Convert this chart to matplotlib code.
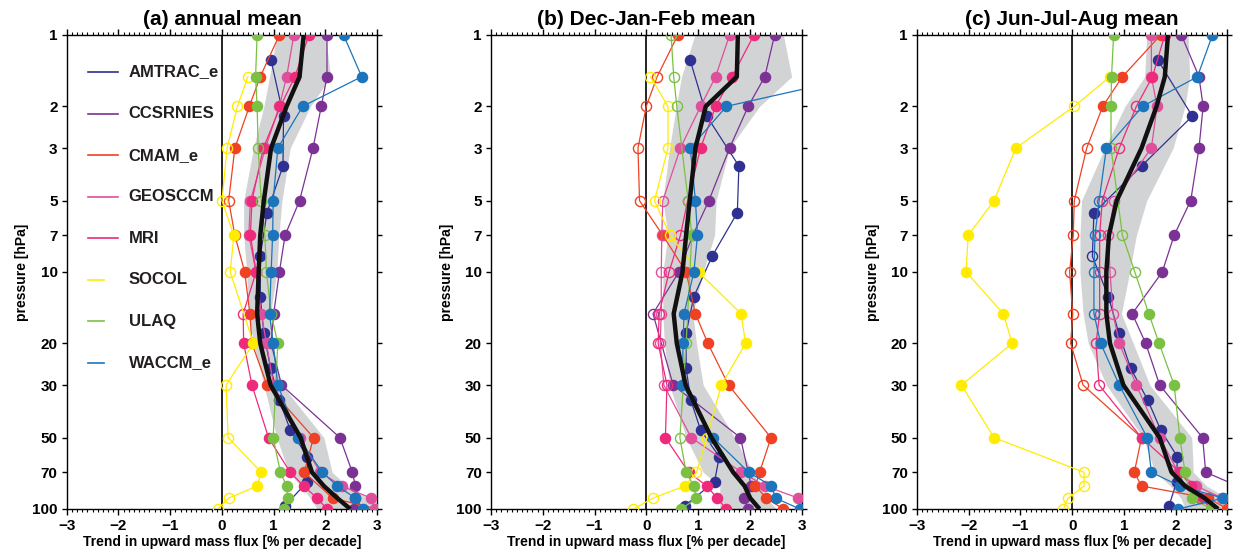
import numpy as np
import matplotlib.pyplot as plt
from matplotlib.ticker import MultipleLocator, NullLocator

plt.rcParams['font.family'] = ['Liberation Sans', 'DejaVu Sans']
plt.rcParams['font.weight'] = 'bold'

nan = np.nan

# pressure levels [hPa]
levels = [1, 1.5, 2, 3, 5, 7, 10, 15, 20, 30, 50, 70, 80, 90, 100]
amtrac_levels = [1.28, 2.2, 3.57, 5.62, 8.6, 12.7, 18.1, 25.5, 34.7, 46.4, 60.1, 76.7, 97]

models = ['AMTRAC_e', 'CCSRNIES', 'CMAM_e', 'GEOSCCM', 'MRI', 'SOCOL', 'ULAQ', 'WACCM_e']
colors = ['#2E3192', '#7B3294', '#EF4123', '#DE4F9C', '#EE2A7B', '#FFEC00', '#7AC143', '#1C75BC']
titles = ['(a) annual mean', '(b) Dec-Jan-Feb mean', '(c) Jun-Jul-Aug mean']
yticks = [1, 2, 3, 5, 7, 10, 20, 30, 50, 70, 100]

# trends [% per decade]; 'x' = significant (filled), 'o' = not significant (open)
ann_vals = {
    'AMTRAC_e': [0.95, 1.19, 1.18, 0.87, 0.74, 0.74, 0.81, 0.94, 1.11, 1.32, 1.65, 1.65, 1.22],
    'CCSRNIES': [2.03, 2.03, 1.92, 1.76, 1.50, 1.22, 1.11, 1.00, 0.95, 1.15, 2.28, 2.52, 2.58, 2.58, 2.55],
    'CMAM_e':   [1.11, 0.74, 0.53, 0.25, 0.13, 0.25, 0.44, 0.54, 0.58, 0.87, 1.77, 1.59, nan, 2.14, 3.00],
    'GEOSCCM':  [1.39, 1.25, 1.11, 0.84, 0.55, 0.52, 0.66, 0.76, 0.86, 1.00, 1.50, 1.90, 2.32, 2.88, 2.95],
    'MRI':      [1.68, 1.41, 1.13, 0.80, 0.58, 0.55, 0.66, 0.41, 0.42, 0.58, 0.90, 1.32, 1.58, 1.84, 2.03],
    'SOCOL':    [nan, 0.50, 0.30, 0.10, 0.00, 0.23, 0.16, nan, 0.61, 0.08, 0.12, 0.76, 0.68, 0.13, -0.08],
    'ULAQ':     [0.68, 0.65, 0.68, 0.70, 0.76, 0.83, 0.86, 0.95, 1.08, nan, 0.99, 1.13, 1.25, 1.27, 1.19],
    'WACCM_e':  [2.35, 2.70, 1.56, 1.08, 0.99, 0.98, 0.95, 0.92, 0.99, 1.08, 1.47, 1.94, 2.23, 2.58, 2.73],
}
ann_sig = {
    'AMTRAC_e': 'xxxxxxxxxxxxx',
    'CCSRNIES': 'xxxxxxxxxxxxxxx',
    'CMAM_e':   'xxxxoxxxxxxxxxx',
    'GEOSCCM':  'xxxxxxxxxxxxxxx',
    'MRI':      'xxxxxxxoxxxxxxx',
    'SOCOL':    'oooooxooxooxxoo',
    'ULAQ':     'xxxoooooxxxxxxx',
    'WACCM_e':  'xxxxxxxxxxxxxxx',
}
ann_mean = [1.58, 1.50, 1.25, 0.95, 0.81, 0.74, 0.71, 0.68, 0.74, 0.94, 1.52, 1.74, 1.97, 2.23, 2.48]
ann_lo = [1.06, 0.92, 0.81, 0.61, 0.42, 0.42, 0.48, 0.52, 0.61, 0.81, 1.06, 1.29, 1.52, 1.71, 1.84]
ann_hi = [2.00, 2.10, 1.71, 1.32, 1.16, 1.10, 1.06, 0.94, 0.97, 1.16, 1.97, 2.13, 2.42, 2.81, 3.20]

djf_vals = {
    'AMTRAC_e': [0.85, 1.17, 1.79, 1.76, 1.27, 0.92, 0.77, 0.77, 0.86, 1.05, 1.41, 1.32, 0.74],
    'CCSRNIES': [2.48, 2.29, 1.97, 1.61, 1.21, 0.90, 0.63, 0.13, nan, 0.52, 1.82, nan, 2.03, 1.88, 1.97],
    'CMAM_e':   [0.61, 0.21, 0.00, -0.16, -0.13, 0.32, 0.77, 0.95, 1.19, 1.59, 2.41, 2.19, 2.11, 2.32, 2.65],
    'GEOSCCM':  [1.61, 1.34, 1.05, 0.66, 0.32, 0.30, 0.29, 0.29, 0.27, 0.34, 0.87, 1.84, 2.30, 2.94, 3.10],
    'MRI':      [2.08, 1.66, 1.34, 1.05, 0.80, 0.66, 0.44, 0.25, 0.23, 0.40, 0.37, 0.82, 1.17, 1.37, 1.55],
    'SOCOL':    [nan, 0.08, 0.42, 0.42, 0.16, 0.46, 1.01, 1.83, 1.92, 1.45, 1.17, 0.97, 0.74, 0.13, -0.25],
    'ULAQ':     [0.48, 0.53, 0.59, nan, 0.81, 0.88, nan, nan, 0.77, nan, 0.65, 0.77, 0.92, 0.97, 0.68],
    'WACCM_e':  [nan, 4.10, 1.55, 0.85, 0.95, 0.99, 0.92, 0.73, 0.71, 0.70, 1.29, 1.98, 2.42, 2.50, 2.97],
}
djf_sig = {
    'AMTRAC_e': 'xxxxxxxxxxxxx',
    'CCSRNIES': 'xxxxxxxoxxxxxxx',
    'CMAM_e':   'xooooxxxxxxxxxx',
    'GEOSCCM':  'xxxxooooooxxxxx',
    'MRI':      'xxxxooooooxxxxx',
    'SOCOL':    'ooooooxxxxooxoo',
    'ULAQ':     'oooooxoooooxxxx',
    'WACCM_e':  'xxxxxxxxxxxxxxx',
}
djf_mean = [1.77, 1.75, 1.15, 0.95, 0.84, 0.77, 0.70, 0.53, 0.59, 0.76, 1.26, 1.68, 1.90, 2.01, 2.19]
djf_lo = [0.94, 0.68, 0.58, 0.45, 0.32, 0.42, 0.32, 0.32, 0.35, 0.45, 0.77, 1.10, 1.42, 1.42, 1.42]
djf_hi = [2.65, 2.81, 2.19, 1.61, 1.35, 1.32, 1.10, 0.90, 0.97, 1.10, 1.71, 2.06, 2.19, 2.32, 2.52]

jja_vals = {
    'AMTRAC_e': [1.66, 2.32, 1.34, 0.42, 0.39, 0.70, 0.90, 1.13, 1.46, 1.71, 2.03, 2.02, 1.87],
    'CCSRNIES': [2.11, 2.45, 2.53, 2.45, 2.29, 1.97, 1.74, 1.16, 1.42, 1.69, 2.52, 2.58, 3.20, 3.40, 3.30],
    'CMAM_e':   [1.71, 0.97, 0.59, 0.28, 0.04, 0.02, -0.05, 0.01, -0.03, 0.21, 1.34, 1.20, 1.34, 2.63, 3.00],
    'GEOSCCM':  [1.53, 1.53, 1.64, 1.53, 0.81, 0.70, 0.73, 0.79, 0.91, 1.24, 1.69, 2.05, 2.40, 2.90, 3.10],
    'MRI':      [1.79, 1.55, 1.24, 0.91, 0.58, 0.53, 0.53, 0.53, 0.46, 0.52, 1.34, 2.08, 2.30, 2.47, 2.70],
    'SOCOL':    [nan, 0.73, 0.04, -1.09, -1.51, -2.01, -2.05, -1.33, -1.16, -2.14, -1.51, 0.23, 0.23, -0.08, -0.17],
    'ULAQ':     [0.80, 0.76, 0.75, 0.75, nan, 0.97, 1.21, 1.48, 1.68, 1.97, 2.08, 2.18, nan, 2.31, 2.69],
    'WACCM_e':  [2.71, 2.42, 1.36, 0.66, 0.52, 0.44, 0.42, 0.42, 0.55, 0.91, 1.45, 1.53, 2.08, 2.92, 2.05],
}
jja_sig = {
    'AMTRAC_e': 'xxxxoxxxxxxxx',
    'CCSRNIES': 'xxxxxxxxxxxxxxx',
    'CMAM_e':   'xxxoooooooxxxxx',
    'GEOSCCM':  'xxxxooooxxxxxxx',
    'MRI':      'xxooooooooxxxxx',
    'SOCOL':    'oxoxxxxxxxxoooo',
    'ULAQ':     'xxxooooxxxxxxxx',
    'WACCM_e':  'xxxxooooxxxxxxx',
}
jja_mean = [1.85, 1.79, 1.63, 1.34, 0.86, 0.71, 0.66, 0.66, 0.73, 0.99, 1.69, 1.92, 2.18, 2.56, 2.82]
jja_lo = [1.44, 1.40, 1.02, 0.63, 0.18, 0.15, 0.15, 0.21, 0.31, 0.66, 1.37, 1.60, 1.90, 2.10, 2.18]
jja_hi = [2.24, 2.27, 2.18, 1.95, 1.44, 1.24, 1.11, 0.95, 1.18, 1.50, 2.31, 2.34, 2.60, 3.00, 3.34]

seasons = [
    (ann_vals, ann_sig, ann_mean, ann_lo, ann_hi),
    (djf_vals, djf_sig, djf_mean, djf_lo, djf_hi),
    (jja_vals, jja_sig, jja_mean, jja_lo, jja_hi),
]


def draw_model(ax, p, v, sig, color):
    p = np.array(p)
    v = np.array(v, dtype=float)
    ok = ~np.isnan(v)
    filled = np.array([c == 'x' for c in sig])
    ax.plot(v[ok], p[ok], '-', color=color, lw=0.9, zorder=3)
    ax.plot(v[ok & filled], p[ok & filled], 'o', ms=7.3, color=color, mec=color, zorder=3)
    ax.plot(v[ok & ~filled], p[ok & ~filled], 'o', ms=7.3, mfc='none', mec=color, mew=1.0, zorder=3)


fig = plt.figure(figsize=(12.44, 5.52), dpi=100)
lefts = [0.0536, 0.3947, 0.7371]

for k in range(3):
    vals, sig, mean, lo, hi = seasons[k]
    ax = fig.add_axes([lefts[k], 0.0779, 0.2496, 0.8587])

    ax.fill_betweenx(levels, lo, hi, color='#D2D3D5', lw=0, zorder=1)
    ax.axvline(0, color='black', lw=1.2, zorder=2)

    for name, col in zip(models, colors):
        p = amtrac_levels if name == 'AMTRAC_e' else levels
        draw_model(ax, p, vals[name], sig[name], col)

    ax.plot(mean, levels, color='#111111', lw=3.2, zorder=4, solid_capstyle='butt')

    ax.set_yscale('log')
    ax.set_ylim(100, 1)
    ax.set_xlim(-3, 3)
    ax.set_yticks(yticks)
    ax.set_yticklabels([str(t) for t in yticks])
    ax.yaxis.set_minor_locator(NullLocator())
    ax.set_xticks(range(-3, 4))
    ax.xaxis.set_minor_locator(MultipleLocator(0.1))
    ax.tick_params(axis='x', which='major', direction='out', length=4.5, width=1,
                   top=True, labelsize=11, pad=3)
    ax.tick_params(axis='x', which='minor', direction='out', length=2, width=0.8, top=True)
    ax.tick_params(axis='y', which='major', direction='out', length=3.5, width=1,
                   right=True, labelsize=11, pad=3)
    for s in ax.spines.values():
        s.set_linewidth(1.0)

    ax.set_title(titles[k], fontsize=15, fontweight='bold', pad=7)
    ax.set_xlabel('Trend in upward mass flux [% per decade]', fontsize=10, fontweight='bold', labelpad=1)
    ax.set_ylabel('pressure [hPa]', fontsize=10, fontweight='bold', labelpad=2)

    if k == 0:
        # legend drawn by hand, no frame
        for i, (name, col) in enumerate(zip(models, colors)):
            y = 0.922 - i * 0.0877
            x1 = 0.166 if i < 5 else 0.12
            ax.plot([0.069, x1], [y, y], color=col, lw=1.2, transform=ax.transAxes, clip_on=False)
            ax.text(0.20, y, name, transform=ax.transAxes, fontsize=12, fontweight='bold',
                    va='center', ha='left', color='#231F20')

fig.savefig('out.png', dpi=100)
